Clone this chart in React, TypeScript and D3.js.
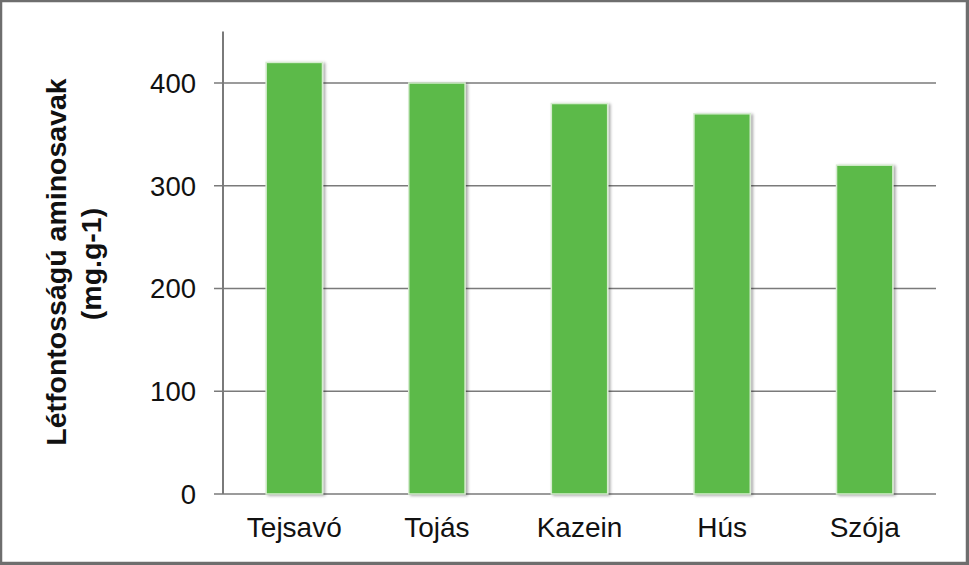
import React from "react";
import * as d3 from "d3";

const categories: string[] = ["Tejsavó", "Tojás", "Kazein", "Hús", "Szója"];
const values: number[] = [420, 400, 380, 370, 320];
const yTicks: number[] = [0, 100, 200, 300, 400];
const yTitleLines: string[] = ["Létfontosságú aminosavak", "(mg.g-1)"];

const W = 969;
const H = 565;
const FONT = "'Liberation Sans', Arial, Helvetica, sans-serif";

export default function App() {
  const x = d3
    .scaleBand<string>()
    .domain(categories)
    .range([223, 936])
    .paddingInner(0.605)
    .paddingOuter(0.3025);
  const y = d3.scaleLinear().domain([0, 450]).range([494, 31.6]);
  const axisColor = "#7a7a7a";

  return (
    <div style={{ position: "fixed", left: 0, top: 0 }}>
      <svg width={W} height={H} style={{ display: "block", background: "#fff" }}>
        <defs>
          <filter id="sh" x="-30%" y="-10%" width="160%" height="120%">
            <feDropShadow dx="2" dy="1" stdDeviation="1.6" floodColor="#000" floodOpacity="0.35" />
          </filter>
        </defs>
        {/* frame */}
        <rect x={1} y={1} width={W - 3} height={H - 3} fill="none" stroke="#6e6e6e" strokeWidth={2.5} />
        <line x1={W - 1.5} y1={0} x2={W - 1.5} y2={H} stroke="#6e6e6e" strokeWidth={3} />
        <line x1={0} y1={H - 1.5} x2={W} y2={H - 1.5} stroke="#6e6e6e" strokeWidth={3} />

        {/* gridlines and ticks */}
        {yTicks.map((t) => (
          <g key={t}>
            <line x1={214} x2={936} y1={y(t)} y2={y(t)} stroke={axisColor} strokeWidth={1.7} />
            <text
              x={196}
              y={y(t)}
              dy="0.36em"
              textAnchor="end"
              fontFamily={FONT}
              fontSize={27.5}
              fill="#111"
            >
              {t}
            </text>
          </g>
        ))}

        {/* bars */}
        {categories.map((c, i) => (
          <g key={c}>
            <rect
              x={x(c)!}
              y={y(values[i])}
              width={x.bandwidth()}
              height={y(0) - y(values[i])}
              fill="#5bba48"
              stroke="#d6eccf"
              strokeWidth={1.5}
              filter="url(#sh)"
            />
          </g>
        ))}

        {/* y axis line */}
        <line x1={223} x2={223} y1={y(450)} y2={y(0)} stroke={axisColor} strokeWidth={2} />

        {/* category labels */}
        {categories.map((c) => (
          <text
            key={c}
            x={x(c)! + x.bandwidth() / 2}
            y={537}
            textAnchor="middle"
            fontFamily={FONT}
            fontSize={28}
            fill="#111"
          >
            {c}
          </text>
        ))}

        {/* y title */}
        {yTitleLines.map((line, i) => (
          <text
            key={line}
            transform={`translate(${i === 0 ? 66 : 101},${i === 0 ? 262 : 264}) rotate(-90)`}
            textAnchor="middle"
            fontFamily={FONT}
            fontSize={28.5}
            fontWeight="bold"
            fill="#111"
          >
            {line}
          </text>
        ))}
      </svg>
    </div>
  );
}
